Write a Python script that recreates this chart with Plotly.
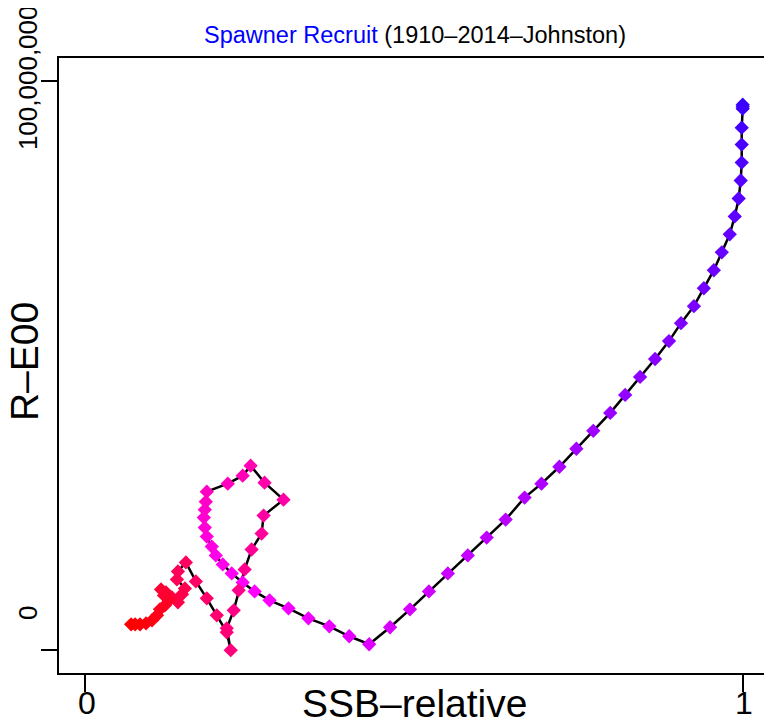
import plotly.graph_objects as go

# Spawner-recruit trajectory (SSB relative to virgin, recruits)
ssb_rel = [
    1.0, 1.0, 1.0, 0.9985, 0.9985, 0.9985, 0.997, 0.9939, 0.9879, 0.9803,
    0.9682, 0.9561, 0.9409, 0.9258, 0.9061, 0.8879, 0.8667, 0.8439, 0.8212, 0.7985,
    0.7727, 0.7470, 0.7212, 0.6939, 0.6682, 0.6394, 0.6106, 0.5818, 0.5515, 0.5227,
    0.4939, 0.4636, 0.4318, 0.4015, 0.3712, 0.3394, 0.3091, 0.2803, 0.2576, 0.2394,
    0.2227, 0.2091, 0.1985, 0.1924, 0.1848, 0.1818, 0.1803, 0.1818, 0.1833, 0.1848,
    0.2167, 0.2394, 0.2515, 0.2727, 0.3015, 0.2712, 0.2682, 0.2530, 0.2424, 0.2333,
    0.2258, 0.2152, 0.2212, 0.2152, 0.2000, 0.1848, 0.1682, 0.1530, 0.1409, 0.1394,
    0.1515, 0.1470, 0.1409, 0.1318, 0.1227, 0.1152, 0.1197, 0.1273, 0.1212, 0.1136,
    0.1091, 0.1015, 0.0924, 0.0833, 0.0758, 0.0697,
]
recruits_m = [
    95.8, 95.45, 95.1, 91.77, 88.79, 85.64, 82.49, 79.33, 76.18, 73.03,
    69.88, 66.73, 63.57, 60.42, 57.44, 54.29, 51.14, 47.99, 44.83, 41.68,
    38.53, 35.38, 32.22, 29.25, 26.80, 22.94, 19.79, 16.64, 13.49, 10.33,
    7.18, 4.03, 1.05, 2.45, 4.20, 5.60, 7.36, 8.76, 10.33, 11.91,
    13.49, 15.06, 16.64, 18.21, 19.96, 21.54, 23.29, 24.69, 26.09, 27.85,
    29.25, 30.65, 32.40, 29.42, 26.44, 23.64, 20.49, 17.69, 14.19, 10.51,
    7.01, 3.85, 0.0, 3.15, 6.13, 9.11, 12.08, 15.41, 13.84, 12.43,
    10.86, 9.81, 8.41, 9.28, 10.16, 10.68, 9.63, 8.76, 7.88, 7.18,
    6.13, 5.25, 4.73, 4.55, 4.55, 4.55,
]

recruits = [r * 1e6 for r in recruits_m]
n = len(ssb_rel)


def hue_colour(h):
    # hue 240..360 on the blue-magenta-red side of the wheel
    if h <= 300:
        r, b = (h - 240) / 60, 1.0
    else:
        r, b = 1.0, (360 - h) / 60
    return f"rgb({int(r * 255)},0,{int(b * 255)})"


colours = [hue_colour(252 + 108 * i / (n - 1)) for i in range(n)]

fig = go.Figure()
fig.add_trace(go.Scatter(x=ssb_rel, y=recruits, mode='lines',
                         line=dict(color='black', width=2.5), hoverinfo='skip'))
fig.add_trace(go.Scatter(x=ssb_rel, y=recruits, mode='markers',
                         marker=dict(symbol='diamond', size=11, color=colours,
                                     line=dict(width=0))))

FONT = "Liberation Sans"
# the page body adds an 8px offset, so the figure is 8px smaller and margins shifted
OFF = 8
fig.update_layout(
    width=772 - OFF, height=724 - OFF,
    margin=dict(l=59 - OFF, r=1, t=58 - OFF, b=51),
    paper_bgcolor='white', plot_bgcolor='white',
    showlegend=False,
    font=dict(family=FONT, color='black'),
    xaxis=dict(range=[-0.04, 1.04], showgrid=False, zeroline=False,
               showline=True, mirror=True, linecolor='black', linewidth=2,
               tickvals=[0, 1], ticks='outside', ticklen=17, tickwidth=2,
               tickcolor='black', showticklabels=False),
    yaxis=dict(range=[-0.04e8, 1.04e8], showgrid=False, zeroline=False,
               showline=True, mirror=True, linecolor='black', linewidth=2,
               tickvals=[0, 1e8], ticks='outside', ticklen=16, tickwidth=2,
               tickcolor='black', showticklabels=False),
)


# page pixels -> paper coords of the plot area (plot area spans 59..771 x 58..673 on the page)
def page_note(text, px, py, size, angle=0, color='black'):
    x0, x1 = 59, 771
    y0, y1 = 58, 673
    fig.add_annotation(text=text, x=(px - x0) / (x1 - x0), y=(y1 - py) / (y1 - y0),
                       xref='paper', yref='paper', showarrow=False, textangle=angle,
                       xanchor='center', yanchor='middle',
                       font=dict(family=FONT, size=size, color=color))


page_note("<span style='color:blue'>Spawner Recruit</span> (1910\u20132014\u2013Johnston)",
          416, 35, 23.5)
page_note("SSB\u2013relative", 416, 703, 39)
page_note("R\u2013E00", 24, 362, 39, angle=-90)
page_note("0", 87, 703, 32)
page_note("1", 746, 703, 32)
page_note("100,000,000", 28, 78, 26, angle=-90)
page_note("0", 28, 613, 26, angle=-90)

fig.write_html("out.html")
